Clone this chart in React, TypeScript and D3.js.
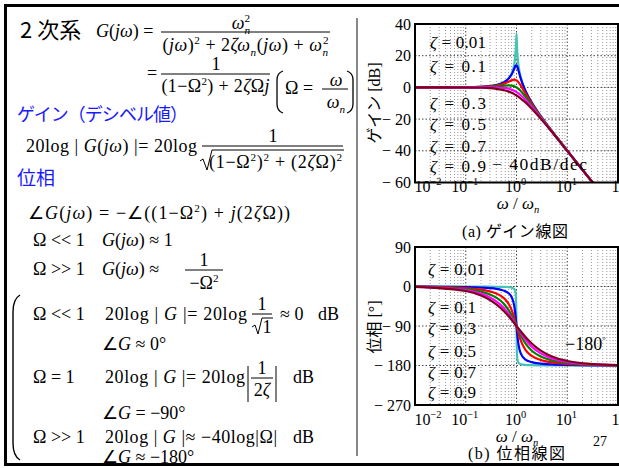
import React from 'react';
import * as d3 from 'd3';

const SERIF = '"Liberation Serif", "Times New Roman", serif';
const GOTHIC = '"Noto Sans CJK JP", sans-serif';
const BLUE = '#1a1aff';

// normalized frequency Ω = ω/ωn
const omega = [0.01, 0.1, 0.2, 0.3, 0.4, 0.5, 0.6, 0.7, 0.8, 0.9, 0.95, 0.98, 1.0, 1.02, 1.05, 1.1, 1.2, 1.5, 2, 3, 5, 10, 31.6, 100];
const zetaLabels = ['0.01', '0.1', '0.3', '0.5', '0.7', '0.9'];
const curveColors = ['#45c3b5', '#0000ff', '#ff0000', '#008000', '#ff00ff', '#800020'];

// gain [dB]
const gain001 = [0, 0.09, 0.35, 0.82, 1.51, 2.5, 3.87, 5.85, 8.87, 14.39, 20.06, 27.1, 33.98, 26.89, 19.61, 13.51, 7.12, -1.94, -9.54, -18.06, -27.6, -39.91, -59.98, -80];
const gain01 = [0, 0.09, 0.35, 0.8, 1.48, 2.42, 3.73, 5.53, 8.09, 11.64, 13.41, 13.98, 13.98, 13.64, 12.63, 10.34, 6.0, -2.18, -9.62, -18.09, -27.61, -39.91, -59.98, -80];
const gain03 = [0, 0.07, 0.29, 0.65, 1.17, 1.85, 2.68, 3.6, 4.44, 4.85, 4.76, 4.59, 4.44, 4.25, 3.9, 3.19, 1.48, -3.75, -10.19, -18.28, -27.67, -39.93, -59.98, -80];
const gain05 = [0, 0.04, 0.17, 0.37, 0.63, 0.9, 1.14, 1.25, 1.14, 0.73, 0.4, 0.17, 0, -0.18, -0.47, -0.98, -2.13, -5.81, -11.14, -18.63, -27.79, -39.96, -59.99, -80];
const gain07 = [0, 0, 0, -0.02, -0.08, -0.22, -0.47, -0.87, -1.41, -2.11, -2.5, -2.75, -2.92, -3.1, -3.37, -3.83, -4.79, -7.76, -12.26, -19.12, -27.96, -40.0, -60.0, -80];
const gain09 = [0, -0.05, -0.22, -0.49, -0.88, -1.38, -1.98, -2.67, -3.43, -4.25, -4.67, -4.93, -5.11, -5.28, -5.54, -5.98, -6.87, -9.47, -13.42, -19.69, -28.18, -40.05, -60.0, -80];

// phase [deg]
const phase001 = [-0.01, -0.12, -0.24, -0.38, -0.55, -0.76, -1.07, -1.57, -2.55, -5.41, -11.03, -26.33, -90, -153.21, -168.42, -174.02, -176.88, -178.63, -179.24, -179.57, -179.76, -179.88, -179.96, -179.99];
const phase01 = [-0.11, -1.16, -2.39, -3.77, -5.44, -7.6, -10.62, -15.35, -23.96, -43.45, -62.84, -78.58, -90, -101.2, -116.02, -133.67, -151.39, -166.5, -172.41, -175.71, -177.61, -178.84, -179.64, -179.89];
const phase03 = [-0.34, -3.47, -7.13, -11.19, -15.95, -21.8, -29.36, -39.47, -53.13, -70.62, -80.29, -86.15, -90, -93.78, -99.24, -107.65, -121.43, -144.25, -158.2, -167.32, -172.87, -176.53, -178.91, -179.66];
const phase05 = [-0.57, -5.77, -11.77, -18.25, -25.46, -33.69, -43.15, -53.92, -65.77, -78.08, -84.14, -87.69, -90, -92.27, -95.58, -100.81, -110.14, -129.81, -146.31, -159.44, -168.23, -174.23, -178.19, -179.43];
const phase07 = [-0.8, -8.05, -16.26, -24.78, -33.69, -43.03, -52.7, -62.51, -72.18, -81.42, -85.81, -88.35, -90, -91.62, -93.99, -97.77, -104.68, -120.76, -136.97, -152.3, -163.74, -171.95, -177.46, -179.2];
const phase09 = [-1.03, -10.3, -20.56, -30.68, -40.6, -50.19, -59.35, -67.96, -75.96, -83.31, -86.74, -88.71, -90, -91.26, -93.1, -96.05, -101.51, -114.84, -129.81, -145.98, -159.44, -169.7, -176.74, -178.97];

const gainSeries = [gain001, gain01, gain03, gain05, gain07, gain09];
const phaseSeries = [phase001, phase01, phase03, phase05, phase07, phase09];

const gainTicks = [40, 20, 0, -20, -40, -60];
const phaseTicks = [90, 0, -90, -180, -270];
const decadeExps = [-2, -1, 0, 1, 2];
const gainLabelY = [48, 72, 109, 130, 152, 172];
const phaseLabelY = [275, 313, 334, 357, 378, 398];

const ITALIC = new Set(['G', 'j', 'ω', 'ζ', 'n']);

type Seg = { t: string; mode: 'n' | 'sub' | 'sup' };
function parse(text: string): Seg[] {
  const segs: Seg[] = [];
  let i = 0;
  while (i < text.length) {
    const c = text[i];
    if ((c === '_' || c === '^') && text[i + 1] === '{') {
      const end = text.indexOf('}', i);
      segs.push({ t: text.slice(i + 2, end), mode: c === '_' ? 'sub' : 'sup' });
      i = end + 1;
    } else {
      segs.push({ t: c, mode: 'n' });
      i++;
    }
  }
  return segs;
}

function Rich({ x, y, fs = 18, text, anchor = 'start', len, fill = '#000', ff = SERIF }: any) {
  const segs = parse(text);
  let cur = 0;
  let prevMode = 'n';
  let prevSubLen = 0;
  const spans: any[] = [];
  segs.forEach((s, si) => {
    const target = s.mode === 'sup' ? -0.4 * fs : s.mode === 'sub' ? 0.25 * fs : 0;
    const sfs = s.mode === 'n' ? fs : 0.62 * fs;
    const dx = s.mode === 'sup' && prevMode === 'sub' ? -prevSubLen : 0;
    [...s.t].forEach((ch, ci) => {
      const dy = ci === 0 && target - cur !== 0 ? target - cur : undefined;
      spans.push(
        <tspan key={si + '-' + ci} dy={dy} dx={ci === 0 && dx ? dx : undefined} fontSize={sfs}
          fontStyle={ITALIC.has(ch) ? 'italic' : 'normal'}>{ch}</tspan>
      );
    });
    cur = target;
    prevMode = s.mode;
    prevSubLen = s.t.length * 0.5 * sfs;
  });
  return (
    <text x={x} y={y} fontSize={fs} fontFamily={ff} textAnchor={anchor} fill={fill}
      textLength={len} lengthAdjust={len ? 'spacing' : undefined} style={{ whiteSpace: 'pre' }}>
      {spans}
    </text>
  );
}

const X0 = 415, X1 = 618;
const x = d3.scaleLog().domain([0.01, 100]).range([X0, X1]);
const yG = d3.scaleLinear().domain([-60, 40]).range([182.5, 24]);
const yP = d3.scaleLinear().domain([-270, 90]).range([405, 247]);

const minorX: number[] = [];
[-2, -1, 0, 1].forEach((e) => { for (let m = 2; m <= 9; m++) minorX.push(m * Math.pow(10, e)); });

function Panel({ y, series, ticks, id, tickBase }: any) {
  const [top, bottom] = [y.range()[1], y.range()[0]];
  const line = d3.line<number>().x((_, i) => x(omega[i])).y((d) => y(d)).curve(d3.curveMonotoneX);
  return (
    <g>
      <defs>
        <clipPath id={id}><rect x={X0} y={top} width={X1 - X0} height={bottom - top} /></clipPath>
      </defs>
      {minorX.map((v) => (
        <line key={'m' + v} x1={x(v)} x2={x(v)} y1={top} y2={bottom} stroke="#999" strokeWidth={1} strokeDasharray="1 2" />
      ))}
      {decadeExps.slice(1, 4).map((e) => (
        <line key={'M' + e} x1={x(Math.pow(10, e))} x2={x(Math.pow(10, e))} y1={top} y2={bottom} stroke="#444" strokeWidth={1} strokeDasharray="1.5 2" />
      ))}
      {ticks.slice(1, ticks.length - 1).map((t: number) => (
        <line key={'h' + t} x1={X0} x2={X1} y1={y(t)} y2={y(t)} stroke="#444" strokeWidth={1} strokeDasharray="1.5 2" />
      ))}
      <g clipPath={`url(#${id})`}>
        {series.map((s: number[], i: number) => (
          <path key={i} d={line(s) || ''} fill="none" stroke={curveColors[i]} strokeWidth={2.2} strokeLinejoin="round" />
        ))}
      </g>
      <rect x={X0} y={top} width={X1 - X0} height={bottom - top} fill="none" stroke="#000" strokeWidth={2} />
      {ticks.map((t: number) => (
        <text key={'t' + t} x={411} y={y(t) + 5.5} textAnchor="end" fontSize={16} fontFamily={SERIF} style={{ whiteSpace: 'pre' }}>
          {t < 0 ? '− ' + -t : String(t)}
        </text>
      ))}
      {decadeExps.map((e, i) => (
        <text key={'x' + e} x={x(Math.pow(10, e)) + (i === 0 ? 13 : i === 4 ? 4 : -1)} y={tickBase}
          textAnchor="middle" fontSize={16} fontFamily={SERIF}>
          10<tspan dy={-7} fontSize={10.5}>{e < 0 ? '−' + -e : String(e)}</tspan>
        </text>
      ))}
    </g>
  );
}

export default function App() {
  return (
    <svg width={619} height={468} style={{ position: 'absolute', left: 0, top: 0, background: '#fff' }}>
      <rect x={0} y={0} width={619} height={468} fill="#fff" />

      {/* ---------- left: equations ---------- */}
      <text x={20} y={38} fontSize={22} fontFamily={GOTHIC}>2 次系</text>
      <Rich x={96} y={37} text="G(jω) =" />
      <Rich x={241} y={29} anchor="middle" text="ω_{n}^{2}" />
      <line x1={161} x2={330} y1={32} y2={32} stroke="#000" strokeWidth={1} />
      <Rich x={245.5} y={51} anchor="middle" len={166} text="(jω)^{2} + 2ζω_{n}(jω) + ω_{n}^{2}" />

      <Rich x={147} y={79} text="=" />
      <Rich x={216} y={70} anchor="middle" text="1" />
      <line x1={161} x2={270} y1={74} y2={74} stroke="#000" strokeWidth={1} />
      <Rich x={215.5} y={92} anchor="middle" len={108} text="(1−Ω^{2}) + 2ζΩj" />
      <path d="M283 71 Q277 73 277 80 L277 104 Q277 111 283 113" fill="none" stroke="#000" strokeWidth={1.3} />
      <path d="M347 71 Q353 73 353 80 L353 104 Q353 111 347 113" fill="none" stroke="#000" strokeWidth={1.3} />
      <Rich x={285} y={94} text="Ω =" />
      <Rich x={336} y={86} anchor="middle" text="ω" />
      <line x1={322} x2={348} y1={89} y2={89} stroke="#000" strokeWidth={1} />
      <Rich x={336} y={108} anchor="middle" text="ω_{n}" />

      <text x={17} y={121} fontSize={18} fontFamily={GOTHIC} fill={BLUE} textLength={171} lengthAdjust="spacing">ゲイン（デシベル値）</text>

      <Rich x={26} y={152} len={171} text="20log | G(jω) |= 20log" />
      <Rich x={273} y={142} anchor="middle" text="1" />
      <line x1={202} x2={343} y1={146} y2={146} stroke="#000" strokeWidth={1} />
      <path d="M200 161 L203 159 L207 170 L212 150 L344 150" fill="none" stroke="#000" strokeWidth={1} />
      <Rich x={209} y={168} len={133} text="(1−Ω^{2})^{2} + (2ζΩ)^{2}" />

      <text x={17} y={185} fontSize={19} fontFamily={GOTHIC} fill={BLUE}>位相</text>

      <Rich x={28} y={219} len={262} text="∠G(jω) = −∠((1−Ω^{2}) + j(2ζΩ))" />
      <Rich x={33} y={246} text="Ω << 1" />
      <Rich x={102} y={246} text="G(jω) ≈ 1" />
      <Rich x={33} y={275} text="Ω >> 1" />
      <Rich x={102} y={275} text="G(jω) ≈" />
      <Rich x={204} y={266} anchor="middle" text="1" />
      <line x1={185} x2={223} y1={270} y2={270} stroke="#000" strokeWidth={1} />
      <Rich x={204} y={289} anchor="middle" text="−Ω^{2}" />

      <path d="M20 295 Q13 299 13 312 L13 443 Q13 456 20 460" fill="none" stroke="#000" strokeWidth={1.4} />

      <Rich x={33} y={320} text="Ω << 1" />
      <Rich x={105} y={320} len={142} text="20log | G |= 20log" />
      <Rich x={262} y={310} anchor="middle" text="1" />
      <line x1={252} x2={272} y1={314} y2={314} stroke="#000" strokeWidth={1} />
      <path d="M252 327 L255 325 L258 334 L262 318 L273 318" fill="none" stroke="#000" strokeWidth={1} />
      <Rich x={267} y={333} anchor="middle" text="1" />
      <Rich x={280} y={320} text="≈ 0" />
      <Rich x={318} y={320} text="dB" />
      <Rich x={102} y={350} text="∠G ≈ 0°" />

      <Rich x={33} y={383} text="Ω = 1" />
      <Rich x={105} y={383} len={140} text="20log | G |= 20log" />
      <line x1={248} x2={248} y1={366} y2={402} stroke="#000" strokeWidth={1} />
      <line x1={276} x2={276} y1={366} y2={402} stroke="#000" strokeWidth={1} />
      <Rich x={262} y={374} anchor="middle" text="1" />
      <line x1={251} x2={273} y1={378} y2={378} stroke="#000" strokeWidth={1} />
      <Rich x={262} y={396} anchor="middle" text="2ζ" />
      <Rich x={293} y={383} text="dB" />
      <Rich x={102} y={419} text="∠G = −90°" />

      <Rich x={33} y={443} text="Ω >> 1" />
      <Rich x={105} y={443} len={172} text="20log | G |≈ −40log|Ω|" />
      <Rich x={293} y={443} text="dB" />
      <Rich x={102} y={463} text="∠G ≈ −180°" />

      <line x1={357} x2={357} y1={18} y2={456} stroke="#888" strokeWidth={2} />

      {/* ---------- right: Bode plots ---------- */}
      <Panel y={yG} series={gainSeries} ticks={gainTicks} id="clipG" tickBase={192} />
      <Panel y={yP} series={phaseSeries} ticks={phaseTicks} id="clipP" tickBase={425} />

      {zetaLabels.map((z, i) => (
        <Rich key={'gz' + i} x={430} y={gainLabelY[i]} fs={17} len={56} text={'ζ = ' + z} />
      ))}
      {zetaLabels.map((z, i) => (
        <Rich key={'pz' + i} x={428} y={phaseLabelY[i]} fs={17} len={i === 0 ? 57 : 48} text={'ζ = ' + z} />
      ))}
      <text x={492} y={170} fontSize={17.5} fontFamily={SERIF} textLength={95} lengthAdjust="spacing" style={{ whiteSpace: 'pre' }}>− 40dB/dec</text>
      <text x={565} y={350} fontSize={18} fontFamily={SERIF}>−180<tspan dy={-7} fontSize={9}>°</tspan></text>

      <text transform="translate(380,103) rotate(-90)" textAnchor="middle" fontSize={16} fontFamily={GOTHIC}>
        ゲイン<tspan fontFamily={SERIF}> [dB]</tspan>
      </text>
      <text transform="translate(380,327) rotate(-90)" textAnchor="middle" fontSize={16} fontFamily={GOTHIC}>
        位相<tspan fontFamily={SERIF}> [°]</tspan>
      </text>

      <Rich x={518} y={209} anchor="middle" fs={17} text="ω / ω_{n}" />
      <Rich x={517} y={442} anchor="middle" fs={17} text="ω / ω_{n}" />
      <text x={462} y={237} fontSize={16} fontFamily={GOTHIC} textLength={106} lengthAdjust="spacing"><tspan fontFamily={SERIF}>(a) </tspan>ゲイン線図</text>
      <text x={468} y={459} fontSize={16} fontFamily={GOTHIC} textLength={97} lengthAdjust="spacing"><tspan fontFamily={SERIF}>(b) </tspan>位相線図</text>
      <text x={593} y={446} fontSize={14} fontFamily={SERIF}>27</text>

      {/* slide border */}
      <line x1={4} x2={619} y1={5.5} y2={5.5} stroke="#000" strokeWidth={3} />
      <line x1={5.5} x2={5.5} y1={4} y2={466} stroke="#000" strokeWidth={3} />
      <line x1={4} x2={619} y1={464.5} y2={464.5} stroke="#000" strokeWidth={3} />
    </svg>
  );
}
